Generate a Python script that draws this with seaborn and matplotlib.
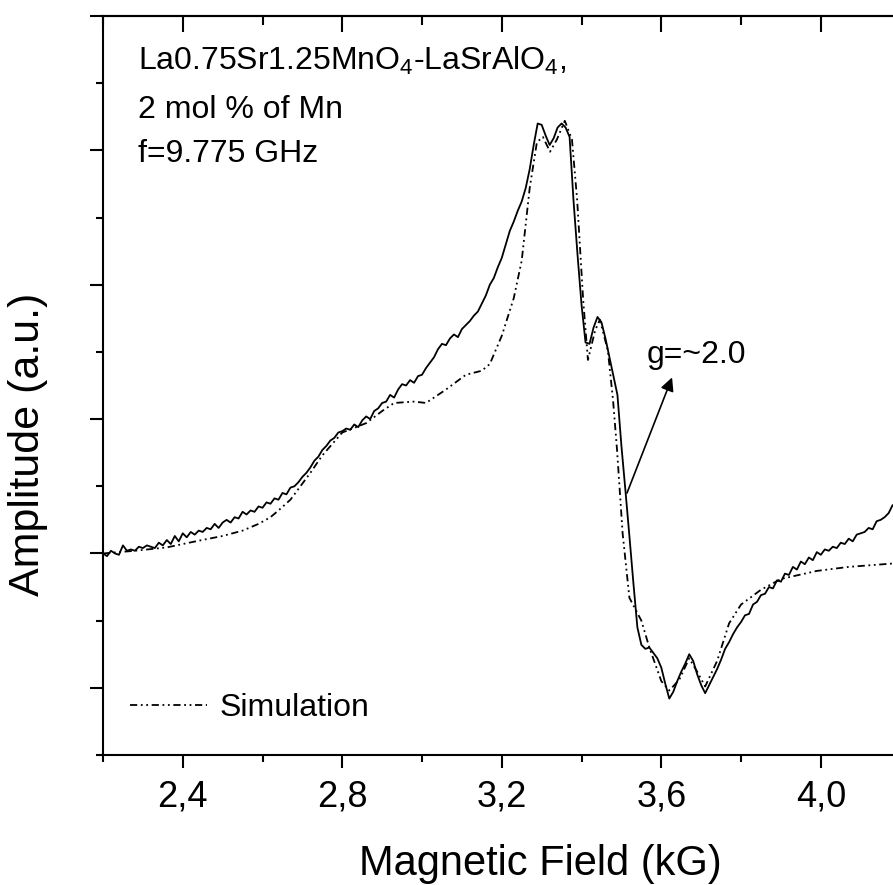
import matplotlib
matplotlib.use("Agg")
import matplotlib.pyplot as plt
from matplotlib.ticker import MultipleLocator
import pandas as pd
import seaborn as sns

# experimental EPR spectrum (field in kG, amplitude in a.u.)
field_exp = [
    2.20, 2.21, 2.22, 2.23, 2.24, 2.25, 2.26, 2.27, 2.28, 2.29,
    2.30, 2.31, 2.32, 2.33, 2.34, 2.35, 2.36, 2.37, 2.38, 2.39,
    2.40, 2.41, 2.42, 2.43, 2.44, 2.45, 2.46, 2.47, 2.48, 2.49,
    2.50, 2.51, 2.52, 2.53, 2.54, 2.55, 2.56, 2.57, 2.58, 2.59,
    2.60, 2.61, 2.62, 2.63, 2.64, 2.65, 2.66, 2.67, 2.68, 2.69,
    2.70, 2.71, 2.72, 2.73, 2.74, 2.75, 2.76, 2.77, 2.78, 2.79,
    2.80, 2.81, 2.82, 2.83, 2.84, 2.85, 2.86, 2.87, 2.88, 2.89,
    2.90, 2.91, 2.92, 2.93, 2.94, 2.95, 2.96, 2.97, 2.98, 2.99,
    3.00, 3.01, 3.02, 3.03, 3.04, 3.05, 3.06, 3.07, 3.08, 3.09,
    3.10, 3.11, 3.12, 3.13, 3.14, 3.15, 3.16, 3.17, 3.18, 3.19,
    3.20, 3.21, 3.22, 3.23, 3.24, 3.25, 3.26, 3.27, 3.28, 3.29,
    3.30, 3.31, 3.32, 3.33, 3.34, 3.35, 3.36, 3.37, 3.38, 3.39,
    3.40, 3.41, 3.42, 3.43, 3.44, 3.45, 3.46, 3.47, 3.48, 3.49,
    3.50, 3.51, 3.52, 3.53, 3.54, 3.55, 3.56, 3.57, 3.58, 3.59,
    3.60, 3.61, 3.62, 3.63, 3.64, 3.65, 3.66, 3.67, 3.68, 3.69,
    3.70, 3.71, 3.72, 3.73, 3.74, 3.75, 3.76, 3.77, 3.78, 3.79,
    3.80, 3.81, 3.82, 3.83, 3.84, 3.85, 3.86, 3.87, 3.88, 3.89,
    3.90, 3.91, 3.92, 3.93, 3.94, 3.95, 3.96, 3.97, 3.98, 3.99,
    4.00, 4.01, 4.02, 4.03, 4.04, 4.05, 4.06, 4.07, 4.08, 4.09,
    4.10, 4.11, 4.12, 4.13, 4.14, 4.15, 4.16, 4.17, 4.18,
]
amp_exp = [
    0.00, -0.02, 0.02, 0.00, -0.01, 0.06, 0.02, 0.03, 0.02, 0.05,
    0.04, 0.06, 0.05, 0.04, 0.08, 0.06, 0.10, 0.07, 0.13, 0.09,
    0.15, 0.12, 0.16, 0.14, 0.17, 0.16, 0.19, 0.18, 0.22, 0.19,
    0.23, 0.25, 0.23, 0.27, 0.26, 0.31, 0.29, 0.32, 0.31, 0.35,
    0.34, 0.38, 0.37, 0.41, 0.40, 0.45, 0.44, 0.49, 0.50, 0.53,
    0.57, 0.60, 0.64, 0.69, 0.72, 0.77, 0.80, 0.84, 0.86, 0.90,
    0.91, 0.93, 0.92, 0.96, 0.94, 0.99, 1.02, 1.00, 1.06, 1.08,
    1.12, 1.13, 1.18, 1.16, 1.22, 1.26, 1.25, 1.29, 1.27, 1.32,
    1.33, 1.38, 1.42, 1.46, 1.52, 1.56, 1.55, 1.60, 1.63, 1.61,
    1.67, 1.70, 1.73, 1.77, 1.80, 1.86, 1.92, 2.00, 2.05, 2.13,
    2.20, 2.30, 2.40, 2.47, 2.55, 2.62, 2.72, 2.86, 3.04, 3.20,
    3.19, 3.11, 3.04, 3.09, 3.17, 3.20, 3.17, 3.10, 2.62, 2.22,
    1.85, 1.57, 1.56, 1.68, 1.76, 1.72, 1.60, 1.46, 1.32, 1.18,
    0.80, 0.47, 0.13, -0.22, -0.55, -0.68, -0.71, -0.70, -0.74, -0.78,
    -0.85, -0.97, -1.08, -1.03, -0.95, -0.88, -0.82, -0.75, -0.80, -0.90,
    -0.98, -1.04, -0.98, -0.92, -0.86, -0.79, -0.71, -0.66, -0.60, -0.55,
    -0.51, -0.46, -0.45, -0.38, -0.36, -0.31, -0.30, -0.25, -0.26, -0.20,
    -0.21, -0.15, -0.16, -0.10, -0.12, -0.06, -0.08, -0.03, -0.05, 0.01,
    -0.01, 0.03, 0.02, 0.05, 0.04, 0.08, 0.07, 0.11, 0.09, 0.14,
    0.15, 0.16, 0.19, 0.18, 0.24, 0.25, 0.27, 0.30, 0.36,
]

# simulated spectrum
field_sim = [
    2.20, 2.28, 2.36, 2.44, 2.50, 2.55, 2.59, 2.62, 2.64, 2.67,
    2.69, 2.72, 2.75, 2.80, 2.86, 2.90, 2.93, 2.98, 3.01, 3.06,
    3.11, 3.15, 3.17, 3.20, 3.23, 3.25, 3.27, 3.288, 3.303, 3.321,
    3.338, 3.358, 3.376, 3.389, 3.404, 3.416, 3.434, 3.446, 3.466, 3.479,
    3.489, 3.503, 3.52, 3.55, 3.57, 3.60, 3.62, 3.645, 3.67, 3.69,
    3.71, 3.74, 3.77, 3.80, 3.85, 3.90, 3.99, 4.07, 4.18,
]
amp_sim = [
    0.00, 0.02, 0.045, 0.095, 0.13, 0.17, 0.22, 0.27, 0.32, 0.40,
    0.48, 0.60, 0.73, 0.90, 0.97, 1.06, 1.12, 1.13, 1.12, 1.22,
    1.33, 1.36, 1.41, 1.62, 1.90, 2.18, 2.72, 3.06, 3.10, 2.99,
    3.08, 3.22, 3.08, 2.63, 1.89, 1.44, 1.66, 1.74, 1.51, 1.14,
    0.77, 0.15, -0.33, -0.50, -0.70, -0.95, -1.02, -0.94, -0.78, -0.88,
    -0.99, -0.80, -0.52, -0.38, -0.27, -0.19, -0.13, -0.10, -0.075,
]

x_ticks = [2.4, 2.8, 3.2, 3.6, 4.0]
x_tick_labels = ["2,4", "2,8", "3,2", "3,6", "4,0"]

sns.set_style("ticks")
plt.rcParams["font.family"] = ["Liberation Sans", "DejaVu Sans"]
plt.rcParams["mathtext.fontset"] = "custom"
plt.rcParams["mathtext.rm"] = "Liberation Sans"
plt.rcParams["mathtext.default"] = "regular"
plt.rcParams["text.color"] = "black"
plt.rcParams["axes.labelcolor"] = "black"
plt.rcParams["xtick.color"] = "black"
plt.rcParams["ytick.color"] = "black"

exp_df = pd.DataFrame({"field": field_exp, "amp": amp_exp})
sim_df = pd.DataFrame({"field": field_sim, "amp": amp_sim})

fig = plt.figure(figsize=(8.93, 8.85), dpi=100)
ax = fig.add_axes([103 / 893, 130 / 885, 790 / 893, 739 / 885])

sns.lineplot(data=exp_df, x="field", y="amp", ax=ax, color="black", lw=1.3)
sns.lineplot(data=sim_df, x="field", y="amp", ax=ax, color="black", lw=1.3,
             linestyle=(0, (4, 2, 1, 2, 1, 2)))

ax.set_xlim(2.2, 4.181)
ax.set_ylim(-1.5, 4.0)

ax.set_xticks(x_ticks)
ax.set_xticklabels(x_tick_labels)
ax.xaxis.set_minor_locator(MultipleLocator(0.2))
ax.yaxis.set_major_locator(MultipleLocator(1.0))
ax.yaxis.set_minor_locator(MultipleLocator(0.5))
ax.set_yticklabels([])

for s in ["left", "bottom", "top"]:
    ax.spines[s].set_linewidth(1.5)
    ax.spines[s].set_color("black")
ax.spines["right"].set_visible(False)

ax.tick_params(axis="x", which="major", direction="out", length=9.5, width=1.5,
               labelsize=26, pad=8, colors="black")
ax.tick_params(axis="x", which="minor", direction="out", length=5, width=1.5)
ax.tick_params(axis="y", which="major", direction="out", length=9.5, width=1.5)
ax.tick_params(axis="y", which="minor", direction="out", length=5, width=1.5)

top = ax.secondary_xaxis("top")
top.set_xticks(x_ticks)
top.xaxis.set_minor_locator(MultipleLocator(0.2))
top.tick_params(which="major", direction="in", length=11.5, width=1.5, labeltop=False)
top.tick_params(which="minor", direction="in", length=6.5, width=1.5)
top.spines["top"].set_linewidth(1.5)
top.spines["top"].set_color("black")

ax.set_xlabel("Magnetic Field (kG)", fontsize=30, color="black")
ax.set_ylabel("Amplitude (a.u.)", fontsize=31, color="black")
ax.xaxis.set_label_coords(0.554, -0.12)
ax.yaxis.set_label_coords(-0.07, 0.42)

ax.text(0.044, 0.927, "La0.75Sr1.25MnO$_4$-LaSrAlO$_4$,", transform=ax.transAxes,
        fontsize=23, va="baseline", color="black")
ax.text(0.044, 0.862, "2 mol % of Mn", transform=ax.transAxes, fontsize=23,
        va="baseline", color="black")
ax.text(0.044, 0.802, "f=9.775 GHz", transform=ax.transAxes, fontsize=23,
        va="baseline", color="black")

ax.text(3.564, 1.42, "g=~2.0", fontsize=23, va="baseline", color="black")
ax.annotate("", xy=(3.627, 1.31), xytext=(3.514, 0.45),
            arrowprops=dict(arrowstyle="-|>", color="black", lw=1.2,
                            mutation_scale=20, shrinkA=0, shrinkB=0))

leg = ax.legend(handles=[ax.lines[1]], labels=["Simulation"], loc="center left",
                bbox_to_anchor=(0.034, 0.064), frameon=False, fontsize=23,
                handlelength=2.4, handletextpad=0.4, borderpad=0, borderaxespad=0)
for t in leg.get_texts():
    t.set_color("black")

fig.savefig("out.png", dpi=100)
